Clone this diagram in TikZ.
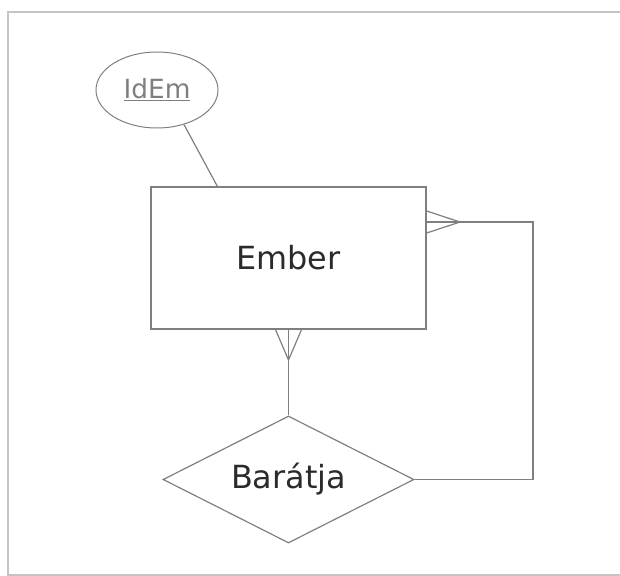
\documentclass[tikz,border=0pt]{standalone}
\usepackage{fontspec}
\setmainfont{DejaVu Sans}
\usetikzlibrary{shapes.geometric,calc}

\definecolor{linegray}{HTML}{7F7F7F}
\definecolor{framegray}{HTML}{C4C4C4}
\definecolor{textgray}{HTML}{2B2B2B}

\tikzset{
  entity/.style={draw=linegray, line width=1.2bp, minimum width=275bp, minimum height=142bp,
    inner sep=0pt, text=textgray, font=\fontsize{32}{38}\selectfont},
  attr/.style={draw=linegray, ellipse, line width=1bp, minimum width=122bp, minimum height=76bp,
    inner sep=0pt, text=linegray, font=\fontsize{26.5}{32}\selectfont},
  rel/.style={draw=linegray, diamond, aspect=2, line width=1.2bp, minimum width=251bp, minimum height=127bp,
    inner sep=0pt, text=textgray, font=\fontsize{32}{38}\selectfont},
  conn/.style={draw=linegray, line width=1.2bp}
}

\begin{document}
\begin{tikzpicture}[x=1bp, y=-1bp]
  \useasboundingbox (0,0) rectangle (620,576);
  % page frame
  \draw[framegray, line width=1.5bp] (621,12) -- (8,12) -- (8,575) -- (621,575);

  \node[entity] (ember) at (288.5,258) {Ember};
  \node[attr] (idem) at (157,90) {\underline{IdEm}};
  \node[rel] (baratja) at (288.5,479.5) {Barátja};

  % crow's feet tips and the corner of the loop
  \coordinate (rf) at (460,222);
  \coordinate (bf) at (288.5,360);
  \coordinate (loop) at (533,479.5);

  \draw[conn] (idem.-52) -- ($(ember.north west)+(67,0)$);

  % Ember -- Barátja (many)
  \draw[conn] (ember.south) -- (baratja.north);
  \draw[conn] ($(ember.south)+(-13,0)$) -- (bf) -- ($(ember.south)+(13,0)$);

  % Barátja -- Ember (many), round the right side
  \draw[conn] (ember.east |- rf) -| (loop) -- (baratja.east);
  \draw[conn] ($(ember.east |- rf)+(0,-11)$) -- (rf) -- ($(ember.east |- rf)+(0,11)$);
\end{tikzpicture}
\end{document}
